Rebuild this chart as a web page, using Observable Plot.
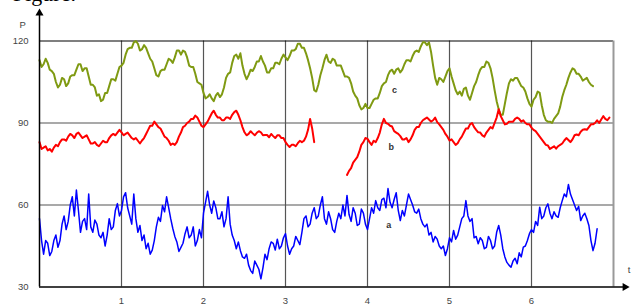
<!DOCTYPE html>
<html><head><meta charset="utf-8">
<script src="https://cdn.jsdelivr.net/npm/d3@7"></script>
<script src="https://cdn.jsdelivr.net/npm/@observablehq/plot@0.6"></script>
<style>
body{margin:0;background:#fff;overflow:hidden}
#wrap{position:relative;width:632px;height:305px;overflow:hidden}
#cap{position:absolute;left:13px;top:-17px;font-size:22px;font-family:"Liberation Serif",serif;line-height:1;color:#000;white-space:nowrap}
#wrap svg{position:absolute;left:0;top:0}
</style></head><body>
<div id="wrap"><div id="cap">Figure.</div></div>
<script>
// time step between readings (t units)
const step = 0.025;
// series a (blue)
const seriesA = [
55,47,42,47,46,41.5,43,47,49,44.5,47,53,56,51,54,60,63,56,65.5,58,
50,54,55,51,64,52,50,54.5,53,49,48,50,45,49,55,51,52,58,60.5,56,
58,63,64.5,59,56,53,64,55,50,52.5,47,49,44,46,42,43.5,47,52,55.5,54,
59.8,57.5,63,59,55,51.5,48.5,46.5,43,44.5,46,49.5,52,48,49,52,45,47,51,48,
57,61,65,60,57,61.5,59,55,55,57.5,52,55,63,53,49,47,44,46.5,43.3,41,
40.5,42,38,36,35,39.5,38,36.5,33,37,42,40,44,46.5,46,43.5,47.5,44,45,48,
49.5,45,42,44,45,48.5,47,45.5,50,55,56,52,53,57,59,55,56,60,63,55,
53,57.5,55,51,50,54,57,55,60,56,63.5,56.5,54,59,57,52.5,53,58.5,57,53,
51,55,59,57,61.6,59,58,62,62.5,59,66,61,59,62,64.5,58,54.3,58,56,60,
64,62,60,57.5,57,58.5,55,53,52,53,49,50,46.5,48.5,47.5,45,44,45,41.5,44,
48,46.5,50.7,47.5,49,52,55,56,61.6,56,54,55,48,48.5,45.8,48,47,44,44.5,48.5,
47,44,45,50,52.5,49,44,41,39,38,37.2,39.5,40.5,38.5,42.5,41,44.6,45,47,49.5,
51,50,54,52.5,59.2,55,56,59,60.4,57,55,57.5,56,55.5,59,61.6,64,63,67.5,64,
62,60,58,59.5,54.3,56,57,55,52.5,47,43.3,46,51.3
];
// series b (red), null = gap in the curve
const seriesB = [
83,80.5,81,81.5,80,80.5,79.5,81,82,81.5,83,84,84,83.5,85,86,85.5,84.5,86,86.5,
85.5,84.5,85,85.5,84,82.5,82.5,83,82,81.5,82.5,83.5,83,83,84.5,85.5,86,85.5,86.5,87.5,
86.6,85.5,86,86.5,85.5,84.5,84,84.5,83.5,82.5,83.6,84.5,86,87.5,89,89,90.5,89.5,88.5,88,
86.5,85,84.5,83.5,82,82.5,82,83,85,86.5,88.5,89,90,90.5,91.5,91.5,92.7,92,90.5,89,
88.5,89.5,90.5,92,93.5,94.5,93,92,92,91,91,92,92,91.5,93,94,94.5,93,91,88.5,
86.6,85.5,86,87,86.2,85.5,86.4,87,86.6,85.5,85.6,85.6,84.8,86,85.2,84.5,85.5,85.5,84.5,84.5,
83,82,81.2,82,82,81.5,82.6,83.5,83,83.5,85,87.5,91.5,88,83,null,null,null,null,null,
null,null,null,null,null,null,null,null,null,null,71,72.5,73.5,75.5,76.5,77.5,79.5,82,83,84.5,
84.2,83,82,83.5,83,84.5,86.5,89.5,91.5,90,89.7,89,88.7,87,86.5,86,85.2,84,84,84.5,
83,84,85.5,87.5,88.5,88.5,90,91,91.5,92,91.3,90.5,91,92,90.3,89.5,88.5,87.5,86,85,
83.6,84,83,82,82.6,84,85,86.5,88,88,89.5,90,88.5,87.5,86.6,86.5,85.5,85,86.5,87.5,
88.5,88,90,92,95,92.5,91,89.5,89.7,90.5,90.5,90.5,91.5,92,91.5,90.5,91,90,89.5,89.5,
88.3,87.5,87,86,85,84,83,82,81.8,80.5,81,81.5,80.6,81.5,82,82.5,83.6,84.5,83.8,83,
84,85.5,85.8,85.5,86.8,87.5,87.7,87.5,88.5,89.5,89.5,90,91,90,91.3,92.5,91.5,91,92
];
// series c (olive)
const seriesC = [
113,110.5,111.5,113.5,112,109.5,109,108,105,103,104,106.5,106,103.5,104.5,107,107.5,107.5,109.5,111.5,
111.5,109,110,110,107,104,104,103,100,100.5,98,98.5,101,101,103.5,106,106,105.5,108,110.5,
111,112,115,117,117.5,117.5,119.5,120,119,116.5,117,118.5,117.5,115.5,113.5,112.5,110,107.5,107,109,
109.5,109.5,111.5,113.5,113,112,114,116.5,116.5,115,116.5,116,114,111,110.5,110.5,108,105,104.5,104,
101,99,99.5,100.5,99,98,100,101,99.5,100.5,103,106.5,108,108.5,112,114.5,115,113.5,115.5,111,
108,106,107.5,109.5,109,110.5,112.5,112.5,114.5,112.5,111,108.5,108.5,110,110,112,112,111.5,113.5,115,
114,113,114.5,116.5,116.5,117,119,119,117.5,117.5,115.5,113,110,106.5,102,101.5,104,107.5,110,113,
115,112.5,112,113.5,113,111,111,111,109,107,107,106.5,104.5,101.5,100,99,96.5,95,95.5,97,
95.5,95.5,97,98.5,99,99,101,103.5,104.5,105,107.5,109,109.5,108,109.5,110,108.5,109.5,111.5,113,
113,112.5,114.5,116,116.5,116,118,119.5,119.5,118.5,119.5,116,111,106.5,104,106.5,106,105,107,109,
110,107,104.5,102,100.5,101.5,100,102.5,103,100,98.5,101,103.5,105,107.5,109.5,110.5,110.5,112.5,112,
110,106.5,102,98,95,93,93,97,101,104.5,106,105.5,106.5,106.5,105,103.5,103,101.5,99,97,
96,98.5,99.5,101.5,101,96.5,93,91,90.5,90.5,90,91.5,92.5,93.5,96,99.5,102,104,106.5,108.5,
110,109.5,108,108,107,105.5,106,106.5,105,104,103.5
];
const xTicks = [1, 2, 3, 4, 5, 6];
const yTicks = [30, 60, 90, 120];
const xDomain = [0, 7];
const yDomain = [30, 120];
const labelText = ["a", "b", "c"];
const labelT = [4.26, 4.29, 4.33];
const labelV = [52.5, 81, 102];
const axisTopV = 130.2;   // end of the P axis arrow
const axisRightT = 7.14;  // end of the t axis arrow

const rows = (arr) => arr.map((v, i) => ({t: i * step, v}));
const labels = labelText.map((s, i) => ({s, t: labelT[i], v: labelV[i]}));

const chart = Plot.plot({
  width: 632, height: 305,
  marginLeft: 39, marginRight: 19, marginTop: 40.5, marginBottom: 18.5,
  x: {domain: xDomain, axis: null},
  y: {domain: yDomain, axis: null},
  style: {background: "transparent", fontFamily: "'Liberation Sans', Arial, sans-serif"},
  marks: [
    Plot.ruleX(xTicks, {stroke: "#555", strokeWidth: 1.2}),
    Plot.ruleY(yTicks.filter(d => d > yDomain[0] && d < yDomain[1]), {stroke: "#555", strokeWidth: 1.2}),
    Plot.ruleY([yDomain[1]], {x1: xDomain[0], x2: xDomain[1], stroke: "#000", strokeWidth: 1.2}),
    Plot.ruleX([xDomain[1]], {stroke: "#999", strokeWidth: 2}),
    Plot.line(rows(seriesC), {x: "t", y: "v", stroke: "#7f9a12", strokeWidth: 2}),
    Plot.line(rows(seriesB), {x: "t", y: "v", stroke: "#ff0000", strokeWidth: 2}),
    Plot.line(rows(seriesA), {x: "t", y: "v", stroke: "#0000ff", strokeWidth: 1.5}),
    Plot.ruleX([xDomain[0]], {y1: yDomain[0], y2: axisTopV, stroke: "#000", strokeWidth: 1.5}),
    Plot.ruleY([yDomain[0]], {x1: xDomain[0], x2: axisRightT, stroke: "#000", strokeWidth: 1.5}),
    Plot.dot([{t: xDomain[0], v: axisTopV}], {x: "t", y: "v", symbol: "triangle", r: 3, fill: "#000", stroke: null}),
    Plot.dot([{t: axisRightT, v: yDomain[0]}], {x: "t", y: "v", symbol: "triangle", r: 3, rotate: 90, fill: "#000", stroke: null}),
    Plot.text(yTicks, {x: xDomain[0], y: d => d, text: d => String(d), dx: -11, textAnchor: "end", fontSize: 9.5, fill: "#444"}),
    Plot.text(xTicks, {x: d => d, y: yDomain[0], text: d => String(d), dy: 14, fontSize: 9.5, fill: "#444"}),
    Plot.text(["P"], {frameAnchor: "top-left", text: d => d, dx: -20, dy: -20, fontSize: 9.5, fill: "#444"}),
    Plot.text(["t"], {frameAnchor: "bottom-right", text: d => d, dx: 17, dy: -14, fontSize: 9.5, fill: "#444"}),
    Plot.text(labels, {x: "t", y: "v", text: "s", fontSize: 9, fontWeight: "bold", fill: "#333"})
  ]
});
document.getElementById("wrap").appendChild(chart);
</script>
</body></html>
